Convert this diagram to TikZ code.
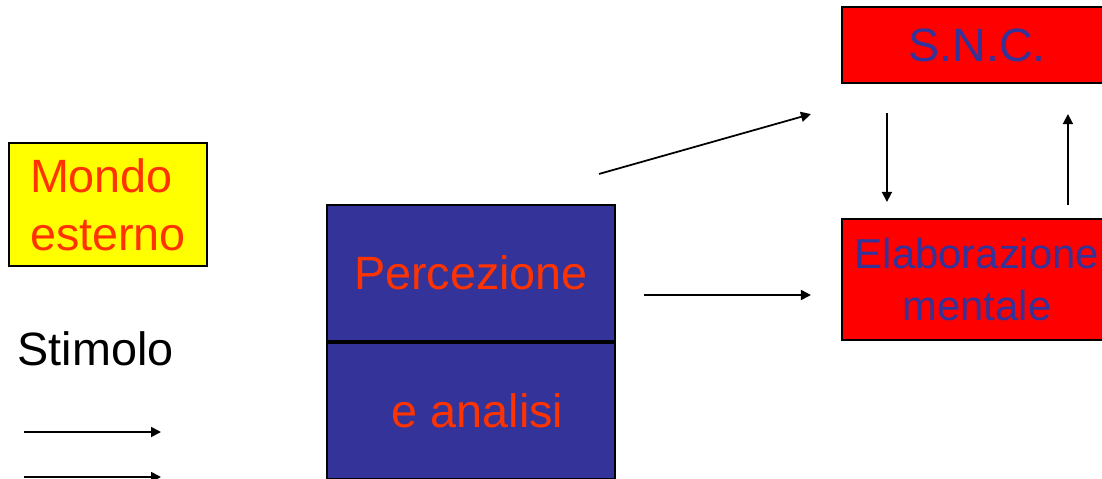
\documentclass[tikz,border=0pt]{standalone}
\usepackage{fontspec}
\setmainfont{Liberation Sans}
\usetikzlibrary{arrows.meta}
\definecolor{giallo}{HTML}{FFFF00}
\definecolor{rosso}{HTML}{FF0000}
\definecolor{blu}{HTML}{333399}
\definecolor{arancio}{HTML}{FF3300}
\tikzset{
  box/.style={draw=black,line width=0.6pt,inner sep=0pt},
  freccia/.style={-{Triangle[length=0.1cm,width=0.1cm]},line width=0.5pt},
}

\begin{document}
\begin{tikzpicture}[font=\fontsize{13.3}{16.5}\selectfont]
\useasboundingbox (0,0) rectangle (11.02,-4.79);
\clip (0,0) rectangle (11.02,-4.79);

%外界
\node[box,fill=giallo,text=arancio,minimum width=1.98cm,minimum height=1.23cm,align=left] (mondo) at (1.08,-2.045) {Mondo\\esterno};

%刺激
\node[anchor=base west,inner sep=0pt] (stimolo) at (0.17,-3.65) {Stimolo};
\coordinate (s1) at (0.24,-4.32);
\coordinate (t1) at (1.61,-4.32);
\coordinate (s2) at (0.24,-4.77);
\coordinate (t2) at (1.61,-4.77);
\draw[freccia] (s1) -- (t1);
\draw[freccia] (s2) -- (t2);

%知覚と分析
\node[box,fill=blu,text=arancio,minimum width=2.88cm,minimum height=1.36cm] (perc) at (4.71,-2.73) {Percezione\ };
\node[box,fill=blu,text=arancio,minimum width=2.88cm,minimum height=1.36cm,anchor=north] (anal) at (perc.south) {\ e analisi};

%中枢神経系
\node[box,fill=rosso,text=blu,minimum width=2.70cm,minimum height=0.76cm] (snc) at (9.77,-0.45) {S.N.C.};
\node[box,fill=rosso,text=blu,minimum width=2.70cm,minimum height=1.21cm,align=center,font=\fontsize{11.9}{14.8}\selectfont] (elab) at (9.77,-2.795) {Elaborazione\\mentale};

%矢印
\draw[freccia] ([xshift=-0.17cm,yshift=0.30cm]perc.north east) -- ([xshift=-0.30cm,yshift=-0.30cm]snc.south west);
\draw[freccia] ([xshift=0.28cm,yshift=-0.22cm]perc.east) -- ([xshift=-0.30cm,yshift=-0.155cm]elab.west);
\draw[freccia] ([xshift=0.46cm,yshift=-0.29cm]snc.south west) -- ([xshift=0.46cm,yshift=0.16cm]elab.north west);
\draw[freccia] ([xshift=2.27cm,yshift=0.13cm]elab.north west) -- ([xshift=2.27cm,yshift=-0.30cm]snc.south west);
\end{tikzpicture}
\end{document}
